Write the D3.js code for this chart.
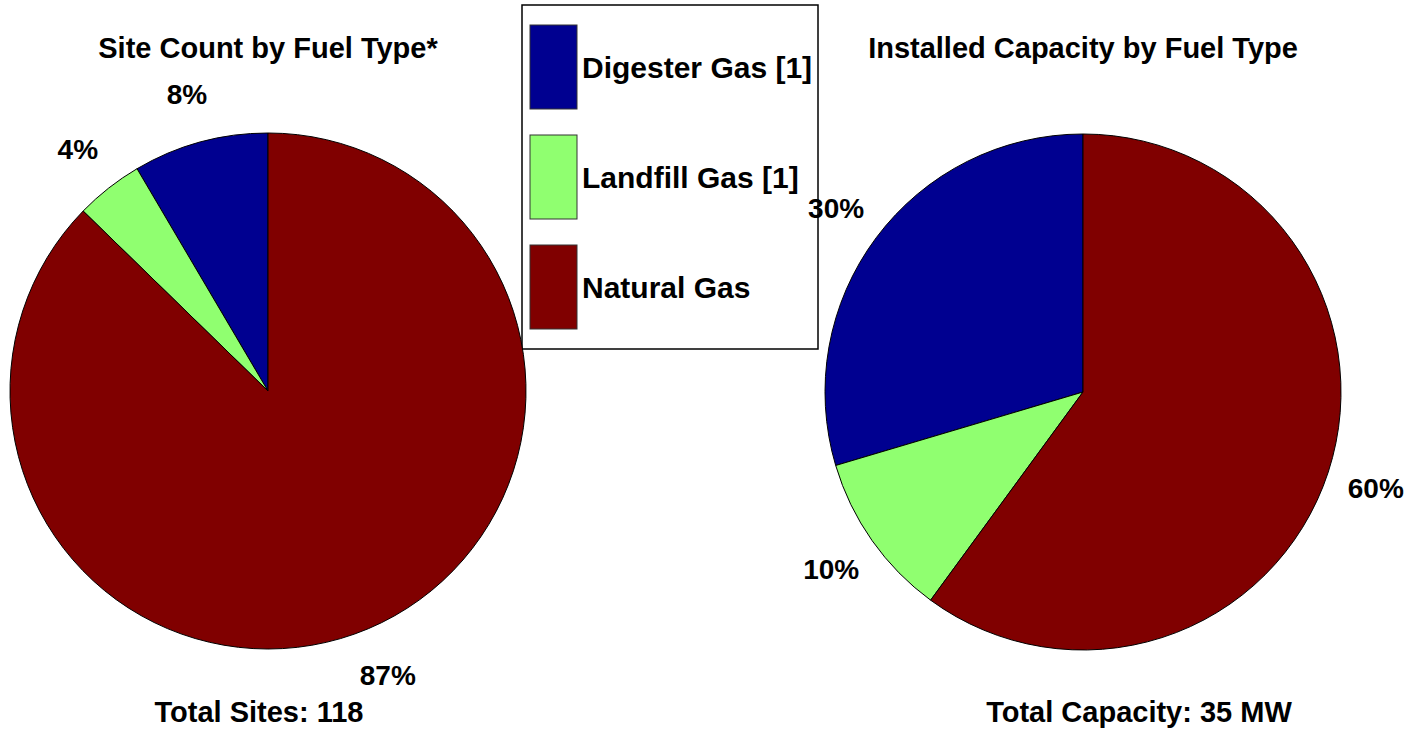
<!DOCTYPE html>
<html>
<head>
<meta charset="utf-8">
<script src="https://cdn.jsdelivr.net/npm/d3@7"></script>
<style>
  body { margin: 0; background: #fff; }
  text { font-family: "Liberation Sans", Arial, sans-serif; font-weight: bold; fill: #000; }
</style>
</head>
<body>
<div id="chart"></div>
<script>
// data
var fuelTypes = ["Digester Gas [1]", "Landfill Gas [1]", "Natural Gas"];
var siteCounts = [10, 5, 103];
var capacityMW = [10.3, 3.6, 20.9];
var fuelColors = ["#000090", "#90ff70", "#800000"];
var chartTitles = ["Site Count by Fuel Type*", "Installed Capacity by Fuel Type"];
var totalLabels = ["Total Sites: 118", "Total Capacity: 35 MW"];

var width = 1412, height = 729;

var svg = d3.select("#chart").append("svg")
  .attr("width", width)
  .attr("height", height);

var color = d3.scaleOrdinal().domain(fuelTypes).range(fuelColors);

// legend first, the 30% label sits on top of its border
var legend = svg.append("g").attr("transform", "translate(522,5)");

legend.append("rect")
  .attr("width", 296)
  .attr("height", 344)
  .attr("fill", "#fff")
  .attr("stroke", "#000")
  .attr("stroke-width", 1.5);

var ly = d3.scaleBand().domain(fuelTypes).range([20, 324]).paddingInner(26 / 110).paddingOuter(0);

var item = legend.selectAll(".item")
  .data(fuelTypes)
  .enter().append("g")
  .attr("class", "item")
  .attr("transform", function(d) { return "translate(0," + ly(d) + ")"; });

item.append("rect")
  .attr("x", 8)
  .attr("width", 47)
  .attr("height", ly.bandwidth())
  .attr("fill", function(d) { return color(d); })
  .attr("stroke", "#333")
  .attr("stroke-width", 1);

item.append("text")
  .attr("x", 60)
  .attr("y", ly.bandwidth() / 2)
  .attr("dy", "0.35em")
  .style("font-size", "30px")
  .text(function(d) { return d; });

// pies run counter-clockwise from 12 o'clock
var pie = d3.pie()
  .sort(null)
  .startAngle(0)
  .endAngle(-2 * Math.PI)
  .value(function(d) { return d.value; });

var radius = 258;
var arc = d3.arc().innerRadius(0).outerRadius(radius);
var labelArc = d3.arc().innerRadius(308).outerRadius(308);

var panels = [
  { values: siteCounts, cx: 268, cy: 391, title: chartTitles[0], total: totalLabels[0], totalX: 259 },
  { values: capacityMW, cx: 1083, cy: 392, title: chartTitles[1], total: totalLabels[1], totalX: 1139 }
];

panels.forEach(function(p) {
  var data = fuelTypes.map(function(f, i) { return { key: f, value: p.values[i] }; });
  var sum = d3.sum(p.values);

  svg.append("text")
    .attr("x", p.cx)
    .attr("y", 58)
    .attr("text-anchor", "middle")
    .style("font-size", "29px")
    .text(p.title);

  var g = svg.append("g")
    .attr("transform", "translate(" + p.cx + "," + p.cy + ")");

  var slices = pie(data);

  g.selectAll("path")
    .data(slices)
    .enter().append("path")
    .attr("d", arc)
    .attr("fill", function(d) { return color(d.data.key); })
    .attr("stroke", "#000")
    .attr("stroke-width", 1);

  g.selectAll("text")
    .data(slices)
    .enter().append("text")
    .attr("transform", function(d) { return "translate(" + labelArc.centroid(d) + ")"; })
    .attr("text-anchor", "middle")
    .attr("dy", "0.35em")
    .style("font-size", "28px")
    .text(function(d) { return Math.round(d.data.value / sum * 100) + "%"; });

  svg.append("text")
    .attr("x", p.totalX)
    .attr("y", 722)
    .attr("text-anchor", "middle")
    .style("font-size", "29px")
    .text(p.total);
});
</script>
</body>
</html>
